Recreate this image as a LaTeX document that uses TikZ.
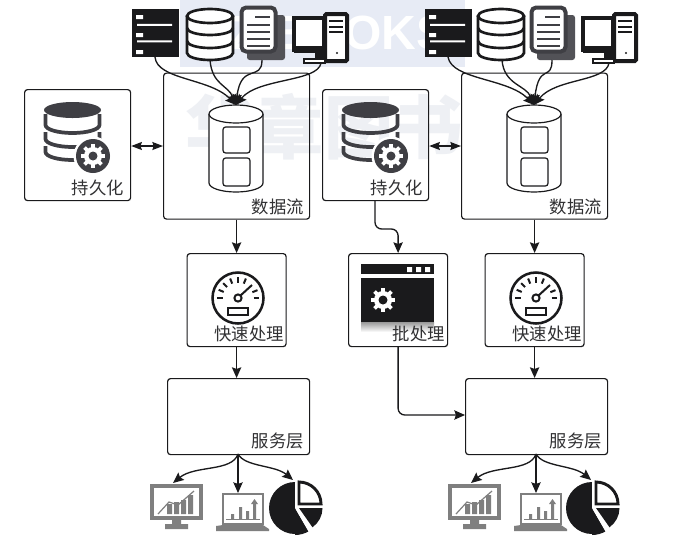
\documentclass[tikz,border=0pt]{standalone}
\usepackage{fontspec}
\setmainfont{Noto Sans CJK SC}
\newfontfamily\latinbold{Liberation Sans}
\usetikzlibrary{arrows.meta,shadings}
\definecolor{ink}{HTML}{1A1A1C}
\definecolor{slate}{HTML}{3F3F44}
\definecolor{chartgray}{HTML}{7F7F7F}
\definecolor{bandblue}{HTML}{E7EBF5}
\definecolor{markgray}{HTML}{EEF0F4}
\tikzset{
  x=0.75pt, y=-0.75pt,
  panel/.style={draw=ink, line width=0.9pt, rounded corners=2.2pt, inner sep=0pt, anchor=north west},
  caption/.style={font=\fontsize{13pt}{14pt}\selectfont, text=ink!90, inner sep=0pt, anchor=east},
  link/.style={draw=ink, line width=1pt, -{Stealth[length=8pt,width=7pt,inset=1.2pt]}},
  twoway/.style={draw=ink, line width=0.9pt, {Stealth[length=8pt,width=6pt,inset=1pt]}-{Stealth[length=8pt,width=6pt,inset=1pt]}},
  pics/rack/.style={code={
    \fill[ink] (0,0) rectangle (47,48);
    \fill[white] (5,14.8) rectangle (40,16.8) (5,31.4) rectangle (40,33.4);
    \fill[white] (4,6) rectangle (11,10) (4,24) rectangle (11,28) (4,41) rectangle (11,45);
  }},
  pics/dbstack/.style={code={
    \draw[ink, line width=2pt, fill=white] (0,7) -- (0,44)
      arc[start angle=180, end angle=0, x radius=23, y radius=7] -- (46,7);
    \draw[ink, line width=2pt, fill=white] (23,7) ellipse[x radius=23, y radius=7];
    \draw[ink, line width=2pt] (0,19) arc[start angle=180, end angle=0, x radius=23, y radius=7];
    \draw[ink, line width=2pt] (0,32) arc[start angle=180, end angle=0, x radius=23, y radius=7];
  }},
  pics/papers/.style={code={
    \fill[slate!90, rounded corners=2pt] (8,10) rectangle (46,55);
    \draw[slate, line width=3pt, fill=white, rounded corners=3.5pt] (2.5,2.5) rectangle (36.5,46.5);
    \draw[slate, line width=1.3pt] (16,12) -- (31,12)
      (8,20) -- (31,20) (8,27) -- (31,27) (8,34) -- (31,34) (8,41) -- (31,41);
  }},
  pics/desktop/.style={code={
    \draw[ink, line width=3pt, fill=white] (2,6) rectangle (32,38);
    \fill[ink] (2,34) rectangle (32,41);
    \draw[ink, line width=3pt, fill=white, rounded corners=1pt] (33,2) rectangle (55,49);
    \fill[ink] (23,41) rectangle (32,47);
    \draw[ink, line width=1.3pt, fill=white] (12,47) rectangle (33,51);
    \draw[ink, line width=1.5pt] (37,9) -- (51,9) (37,14.5) -- (51,14.5) (37,20) -- (51,20);
    \fill[ink] (45,41) circle[radius=1.2];
  }},
  pics/gearcog/.style={code={
    \foreach \a in {0,45,...,315}
      \draw[white, line width=2.8pt] (\a:7) -- (\a:12);
    \fill[white] (0,0) circle[radius=9];
    \fill[#1] (0,0) circle[radius=4.5];
  }},
  pics/dbgear/.style={code={
    \draw[slate, line width=2.8pt] (1.5,12) -- (1.5,23) arc[start angle=180, end angle=0, x radius=27, y radius=8] -- (55.5,12);
    \draw[slate, line width=2.8pt] (1.5,30) -- (1.5,37) arc[start angle=180, end angle=0, x radius=27, y radius=8] -- (55.5,30);
    \draw[slate, line width=2.8pt] (1.5,44) -- (1.5,50) arc[start angle=180, end angle=0, x radius=27, y radius=8];
    \fill[slate] (28.5,8) ellipse[x radius=28.5, y radius=8];
    \fill[white] (49,54) circle[radius=19.5];
    \fill[slate] (49,54) circle[radius=17];
    \pic at (49,54) {gearcog=slate};
  }},
  pics/gauge/.style={code={
    \draw[ink, line width=1.9pt, fill=white] (0,0) circle[radius=25.5];
    \foreach \a in {-180,-157,-135,-112,-90,-68,-22,0}
      \draw[ink, line width=1.5pt] (\a:15.5) -- (\a:21);
    \draw[ink, line width=1.5pt] (2.5,-2.5) -- (14,-13);
    \draw[ink, line width=1.5pt, fill=white] (0,0) circle[radius=3.6];
    \draw[ink, line width=1.3pt, fill=white] (-10,10) rectangle (10,17);
  }},
  pics/jobwindow/.style={code={
    \fill[ink] (0,0) rectangle (73,10);
    \fill[white] (46,3) rectangle (51,8) (55,3) rectangle (60,8) (64,3) rectangle (69,8);
    \fill[ink] (0,14) rectangle (73,58);
    \shade[top color=black!40, bottom color=white] (0,58) rectangle (73,68);
    \begin{scope}[shift={(22,36)}, scale=1.15]
      \pic {gearcog=ink};
    \end{scope}
  }},
  pics/monitor/.style={code={
    \draw[chartgray, line width=3pt] (2,2) rectangle (51,34);
    \fill[chartgray] (22,36) rectangle (31,40) (15,40) -- (38,40) -- (38,45) -- (15,45) -- cycle;
    \fill[chartgray] (17,20) rectangle (22,30) (24,18) rectangle (29,30) (31,16) rectangle (36,30) (38,11) rectangle (43,30);
    \draw[chartgray, line width=0.9pt] (8,30) -- (19,18) -- (28,21) -- (44,7);
  }},
  pics/laptop/.style={code={
    \draw[chartgray, line width=1.9pt] (7,1) rectangle (47,31);
    \fill[chartgray] (0,33) -- (7,32) -- (47,32) -- (53,36) -- (53,38) -- (0,38) -- cycle;
    \draw[chartgray, line width=0.7pt] (10,26) -- (44,26);
    \fill[chartgray] (15,21) rectangle (18,26) (23,14) rectangle (26,26) (30,18) rectangle (33,26) (37,10) rectangle (40,26);
    \fill[chartgray] (35,11) -- (38.5,6) -- (42,11) -- cycle;
  }},
  pics/piechart/.style={code={
    \fill[ink] (0,0) -- (-90:26) arc[start angle=-90, end angle=-300, radius=26] -- cycle;
    \fill[white] (0,0) -- (-90:28) -- (60:28) -- cycle;
    \fill[ink] (0,0) -- (60:27) arc[start angle=60, end angle=90, radius=27] -- cycle;
    \fill[white] (0,0) -- (60:30) -- (36:30) -- cycle;
    \fill[ink] (4,0) -- (27.5,0) arc[start angle=0, end angle=55, radius=23.5] -- cycle;
    \draw[ink, line width=2.2pt, fill=white, line join=miter] (4,-4) -- (4,-26) arc[start angle=-90, end angle=0, radius=22] -- cycle;
  }},
}
\begin{document}
\begin{tikzpicture}
\useasboundingbox (0,0) rectangle (699,551);
\fill[white] (0,0) rectangle (699,551);

% publisher's mark behind the drawing
\fill[bandblue] (180,0) rectangle (465,67);
\node[font=\latinbold\bfseries\fontsize{36pt}{36pt}\selectfont, text=white, inner sep=0pt] (markname) at (322,33) {HZ BOOKS};
\node[font=\bfseries\fontsize{52pt}{52pt}\selectfont, text=markgray, inner sep=0pt] (markcn) at (324,127) {华章图书};

% panels
\node[panel, minimum width=106*0.75pt, minimum height=111*0.75pt] (storeA) at (24,89) {};
\node[panel, minimum width=106*0.75pt, minimum height=111*0.75pt] (storeB) at (322,89) {};
\node[panel, minimum width=146*0.75pt, minimum height=146*0.75pt] (flowA) at (163,72.5) {};
\node[panel, minimum width=146*0.75pt, minimum height=146*0.75pt] (flowB) at (461,72.5) {};
\node[panel, minimum width=99*0.75pt, minimum height=93*0.75pt] (fastA) at (186.5,253) {};
\node[panel, minimum width=99*0.75pt, minimum height=93*0.75pt] (fastB) at (484.5,253) {};
\node[panel, minimum width=99*0.75pt, minimum height=93*0.75pt] (batch) at (348,253) {};
\node[panel, minimum width=142*0.75pt, minimum height=76*0.75pt] (serveA) at (167,378) {};
\node[panel, minimum width=142*0.75pt, minimum height=76*0.75pt] (serveB) at (465,378) {};

% source icons
\pic at (132,9) {rack};
\pic at (187,9) {dbstack};
\pic at (239,5) {papers};
\pic at (292,12) {desktop};
\pic at (425,9) {rack};
\pic at (478,9) {dbstack};
\pic at (529,5) {papers};
\pic at (581,12) {desktop};

% stream cylinders
\foreach \dx/\tag in {0/A,298/B} {
  \begin{scope}[shift={(\dx,0)}]
    \draw[ink, line width=0.9pt, fill=white] (209,114) -- (209,183)
      arc[start angle=180, end angle=0, x radius=27, y radius=9] -- (263,114);
    \draw[ink, line width=0.9pt, fill=white] (236,114) ellipse[x radius=27, y radius=9];
    \draw[ink, line width=0.9pt, rounded corners=2pt] (223,127) rectangle (250,153);
    \draw[ink, line width=0.9pt, rounded corners=2pt] (223,158) rectangle (250,186);
    \coordinate (cyl\tag) at (236,105);
  \end{scope}
}

% other panel icons
\pic at (44,102) {dbgear};
\pic at (342,102) {dbgear};
\pic at (238,298) {gauge};
\pic at (536,298) {gauge};
\pic at (361,264) {jobwindow};

% output icons
\pic at (150,484) {monitor};
\pic at (216,493) {laptop};
\pic at (295,508) {piechart};
\pic at (448,484) {monitor};
\pic at (514,493) {laptop};
\pic at (592,508) {piechart};

% panel captions
\node[caption] (capStoreA) at (124,188) {持久化};
\node[caption] (capStoreB) at (423,188) {持久化};
\node[caption] (capFlowA) at (304,207) {数据流};
\node[caption] (capFlowB) at (602,207) {数据流};
\node[caption] (capFastA) at (284,334) {快速处理};
\node[caption] (capFastB) at (582,334) {快速处理};
\node[caption] (capBatch) at (445,334) {批处理};
\node[caption] (capServeA) at (304,441) {服务层};
\node[caption] (capServeB) at (602,441) {服务层};

% connector end points on the icons
\coordinate (rackA) at (155,57);
\coordinate (dbA) at (210,60);
\coordinate (docA) at (262,60);
\coordinate (pcA) at (321,63);
\coordinate (rackB) at (448,57);
\coordinate (dbB) at (502,60);
\coordinate (docB) at (552,60);
\coordinate (pcB) at (609,63);
\coordinate (monA) at (173,483);
\coordinate (lapA) at (238,493);
\coordinate (pieA) at (293,480);
\coordinate (monB) at (471,483);
\coordinate (lapB) at (536,493);
\coordinate (pieB) at (591,480);
\coordinate (storeAlink) at (storeA.east |- 0,146);
\coordinate (storeBlink) at (storeB.east |- 0,146);
\coordinate (flowAlink) at (flowA.west |- 0,146);
\coordinate (flowBlink) at (flowB.west |- 0,146);
\coordinate (storeBout) at (375,200);
\coordinate (serveAout) at (238,454);
\coordinate (serveBout) at (536,454);

% source feeds
\draw[link] (rackA) .. controls (157,80) and (210,78) .. (cylA);
\draw[link] (dbA) .. controls (212,85) and (228,85) .. (cylA);
\draw[link] (docA) .. controls (262,82) and (241,62) .. (cylA);
\draw[link] (pcA) .. controls (318,82) and (258,78) .. (cylA);
\draw[link] (rackB) .. controls (452,80) and (508,78) .. (cylB);
\draw[link] (dbB) .. controls (504,85) and (526,85) .. (cylB);
\draw[link] (docB) .. controls (552,82) and (539,62) .. (cylB);
\draw[link] (pcB) .. controls (606,82) and (556,78) .. (cylB);

% persistence links
\draw[twoway] (storeAlink) -- (flowAlink);
\draw[twoway] (storeBlink) -- (flowBlink);

% vertical flow
\draw[link] (flowA.south -| fastA.south) -- (fastA.north);
\draw[link] (flowB.south -| fastB.south) -- (fastB.north);
\draw[link] (fastA.south) -- (fastA.south |- serveA.north);
\draw[link] (fastB.south) -- (fastB.south |- serveB.north);

% batch path
\draw[link, rounded corners=5pt] (storeBout) -- (375,229) -- (batch.north |- 0,229) -- (batch.north);
\draw[link, rounded corners=5pt] (batch.south) -- (batch.south |- 0,415) -- (serveB.west |- 0,415);

% outputs
\draw[link] (serveAout) .. controls (232,472) and (195,465) .. (monA);
\draw[link] (serveAout) -- (lapA);
\draw[link] (serveAout) .. controls (245,467) and (275,465) .. (pieA);
\draw[link] (serveBout) .. controls (530,472) and (493,465) .. (monB);
\draw[link] (serveBout) -- (lapB);
\draw[link] (serveBout) .. controls (543,467) and (573,465) .. (pieB);
\end{tikzpicture}
\end{document}
